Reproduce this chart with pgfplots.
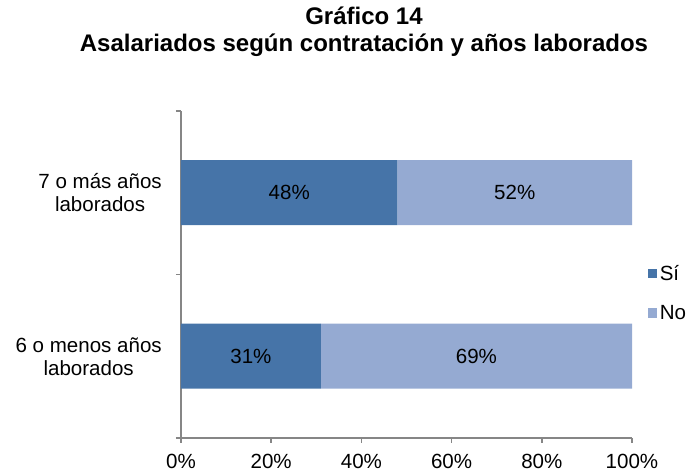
\documentclass[border=0pt]{standalone}
\usepackage{fontspec}
\setmainfont{Liberation Sans}
\usepackage{pgfplots}
\pgfplotsset{compat=1.18}
\definecolor{si}{HTML}{4674A8}
\definecolor{no}{HTML}{95AAD2}
\definecolor{ax}{HTML}{868686}
\newcommand{\lbl}{\fontsize{15.4}{17.25}\selectfont}
\newcommand{\cat}[1]{\begin{tabular}{@{}c@{}}#1\end{tabular}}
\begin{document}
\begin{tikzpicture}[x=0.75pt,y=0.75pt]
\useasboundingbox (0,0) rectangle (697,474);
\node[font=\bfseries\fontsize{18}{20.25}\selectfont, align=center] at (364,442)
  {Gráfico 14\\Asalariados según contratación y años laborados};
\begin{axis}[
  at={(135.75pt,27pt)}, anchor=south west,
  scale only axis, width=338.25pt, height=245.25pt,
  xbar stacked, bar width=48.75pt,
  xmin=0, xmax=100, ymin=-0.5, ymax=1.5,
  axis x line*=bottom, axis y line*=left,
  axis line style={ax, line width=1.1pt},
  xtick={0,20,40,60,80,100},
  xticklabel={\pgfmathprintnumber{\tick}\%},
  ytick={-0.5,0.5,1.5}, yticklabels={},
  extra y ticks={0,1},
  extra y tick labels={{\cat{6 o menos años\\laborados}\hspace{7.5pt}},
                       {\cat{7 o más años\\laborados}}},
  extra y tick style={major tick length=0pt,
    yticklabel style={inner sep=0pt, xshift=-14.25pt, yshift=-2pt}},
  tick style={ax, line width=1.1pt},
  major tick length=3.75pt, tick align=outside,
  ticklabel style={font=\lbl},
  /pgf/number format/assume math mode=true,
  xticklabel style={yshift=-5pt},
  legend style={at={(1.035,0.443)}, anchor=west, draw=none, fill=none,
    font=\lbl, row sep=13pt, inner sep=0pt},
  legend cell align=left,
  legend image code/.code={\fill (0pt,-3.4pt) rectangle (6.8pt,3.4pt);},
  nodes near coords={\pgfplotspointmeta\%},
  point meta=explicit symbolic,
  nodes near coords style={font=\lbl, text=black, anchor=center},
]
\addplot[fill=si, draw=none] coordinates {(31,0) [31] (48,1) [48]};
\addplot[fill=no, draw=none] coordinates {(69,0) [69] (52,1) [52]};
\legend{Sí, No}
\end{axis}
\end{tikzpicture}
\end{document}
